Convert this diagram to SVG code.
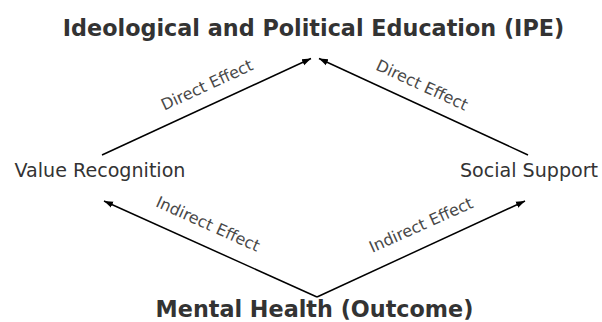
<svg xmlns="http://www.w3.org/2000/svg" width="602" height="322" viewBox="0 0 602 322">
<style>
.node{font-family:"DejaVu Sans","Liberation Sans",sans-serif;fill:#333333;text-anchor:middle}
.main{font-weight:bold;font-size:22.3px}
.side{font-size:19.1px}
.elabel{font-family:"DejaVu Sans","Liberation Sans",sans-serif;font-size:16px;fill:#484848;text-anchor:middle;dominant-baseline:central}
.edge{stroke:#000;stroke-width:1.5;fill:none;marker-end:url(#ah)}
</style>
<defs>
<marker id="ah" markerUnits="userSpaceOnUse" markerWidth="10" markerHeight="8" refX="9" refY="4" orient="auto">
<path d="M0,0.8 L9,4 L0,7.2 z" fill="#000"/>
</marker>
</defs>
<rect width="602" height="322" fill="#fff"/>
<g id="connectors">
<line class="edge" x1="102" y1="155" x2="311" y2="58.5"/>
<line class="edge" x1="528" y1="155" x2="319" y2="58.5"/>
<line class="edge" x1="317" y1="297" x2="104" y2="201"/>
<line class="edge" x1="317" y1="297" x2="525" y2="201"/>
<text class="elabel" transform="translate(207,85) rotate(-24.8)">Direct Effect</text>
<text class="elabel" transform="translate(422,85) rotate(24.8)">Direct Effect</text>
<text class="elabel" transform="translate(208,224) rotate(24.2)">Indirect Effect</text>
<text class="elabel" transform="translate(421,225) rotate(-24.2)">Indirect Effect</text>
</g>
<g id="ipe"><text class="node main" x="313.5" y="36">Ideological and Political Education (IPE)</text></g>
<g id="value"><text class="node side" x="100" y="177">Value Recognition</text></g>
<g id="social"><text class="node side" x="529" y="177">Social Support</text></g>
<g id="mental"><text class="node main" x="314.5" y="317">Mental Health (Outcome)</text></g>
</svg>
